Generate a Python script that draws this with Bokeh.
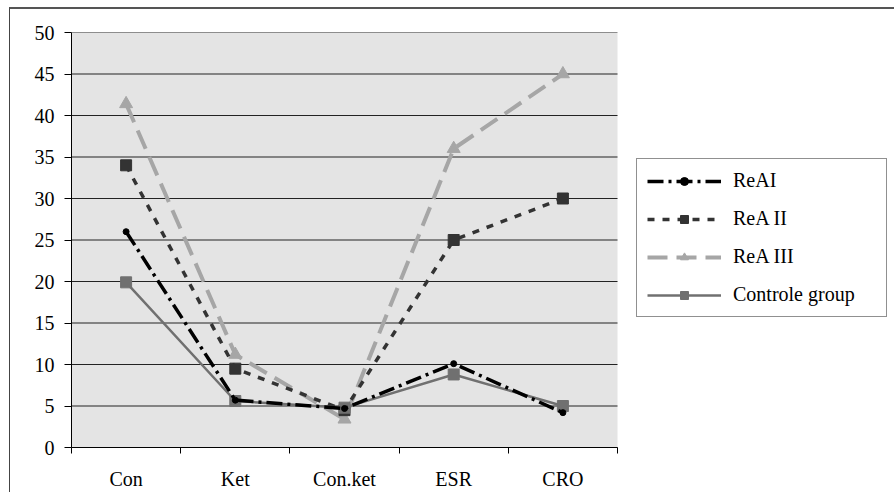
from bokeh.plotting import figure
from bokeh.models import FixedTicker, Legend, LegendItem, Range1d
from bokeh.layouts import column
from bokeh.embed import file_html
from bokeh.resources import INLINE

categories = ["Con", "Ket", "Con.ket", "ESR", "CRO"]
rea1 = [26.0, 5.7, 4.7, 10.1, 4.2]
rea2 = [34.0, 9.5, 4.5, 25.0, 30.0]
rea3 = [41.4, 11.2, 3.4, 36.0, 45.0]
control = [19.9, 5.6, 4.8, 8.8, 5.0]
y_ticks = [0, 5, 10, 15, 20, 25, 30, 35, 40, 45, 50]
series_names = ["ReAI", "ReA II", "ReA III", "Controle group"]

n = len(categories)
xs = [i + 0.5 for i in range(n)]
bounds = [i for i in range(n + 1)]

FONT = "Liberation Serif"

# figure sits inside a wrapper whose top/left CSS borders form the outer chart frame
OX, OY = 10, 9
W, H = 894 - OX, 492 - OY
LEFT, TOP, BOTTOM = 71 - OX, 32 - OY, 43
PLOT_W = 546  # pixel width of the category area
frame_w = W - LEFT
x_end = n * frame_w / PLOT_W

p = figure(width=W, height=H, output_backend="svg", toolbar_location=None,
           x_range=Range1d(0, x_end), y_range=Range1d(0, 50),
           min_border_left=LEFT, min_border_right=0, min_border_top=TOP,
           min_border_bottom=BOTTOM)
p.background_fill_color = "white"
p.border_fill_color = "white"
p.outline_line_color = None

# gray plotting area and horizontal gridlines limited to the category area
p.quad(left=[0], right=[n], bottom=[y_ticks[0]], top=[y_ticks[-1]],
       fill_color="#e4e4e4", line_color=None, level="image")
p.segment(x0=[0] * len(y_ticks), x1=[n] * len(y_ticks), y0=y_ticks, y1=y_ticks,
          line_color="#222222", line_width=1, level="underlay")
p.xgrid.grid_line_color = None
p.ygrid.grid_line_color = None

# axes
p.yaxis.ticker = FixedTicker(ticks=y_ticks)
p.yaxis.major_tick_out = 7
p.yaxis.major_tick_in = 0
p.yaxis.minor_tick_out = 0
p.yaxis.minor_tick_in = 0
p.yaxis.axis_line_color = "black"
p.yaxis.major_tick_line_color = "black"
p.yaxis.major_label_standoff = 10

p.xaxis.ticker = FixedTicker(ticks=xs, minor_ticks=bounds)
p.xaxis.major_label_overrides = {x: c for x, c in zip(xs, categories)}
p.xaxis.bounds = (0, n)
p.xaxis.major_tick_out = 0
p.xaxis.major_tick_in = 0
p.xaxis.minor_tick_out = 6
p.xaxis.minor_tick_in = 0
p.xaxis.minor_tick_line_color = "black"
p.xaxis.axis_line_color = "black"
p.xaxis.major_label_standoff = 14

for ax in (p.xaxis, p.yaxis):
    ax.major_label_text_font = FONT
    ax.major_label_text_font_size = "20px"
    ax.major_label_text_color = "black"

# series
l3 = p.line(xs, rea3, line_color="#a6a6a6", line_width=4, line_dash="20 9")
m3 = p.scatter(xs, rea3, marker="triangle", size=13, fill_color="#a6a6a6", line_color="#a6a6a6")
l2 = p.line(xs, rea2, line_color="#333333", line_width=3.5, line_dash="7 8")
m2 = p.scatter(xs, rea2, marker="square", size=11, fill_color="#333333", line_color="#333333")
l4 = p.line(xs, control, line_color="#707070", line_width=2.5)
m4 = p.scatter(xs, control, marker="square", size=11, fill_color="#707070", line_color="#707070")
l1 = p.line(xs, rea1, line_color="black", line_width=3.5, line_dash="16 5 3 5")
m1 = p.scatter(xs, rea1, marker="circle", size=6, fill_color="black", line_color="black")

items = [
    LegendItem(label=series_names[0], renderers=[l1, m1]),
    LegendItem(label=series_names[1], renderers=[l2, m2]),
    LegendItem(label=series_names[2], renderers=[l3, m3]),
    LegendItem(label=series_names[3], renderers=[l4, m4]),
]
legend = Legend(items=items, location=(565, 130), border_line_color="#222222", border_line_width=1,
                background_fill_color="white", background_fill_alpha=1.0,
                label_text_font=FONT, label_text_font_size="20px", label_text_color="black",
                glyph_width=74, glyph_height=20, label_height=20, label_standoff=12,
                spacing=15, padding=10, margin=0, label_width=143)
p.add_layout(legend, "center")

wrap = column(p, styles={"margin-left": "9px", "margin-top": "7px",
                         "border-top": "2px solid #555555", "border-left": "1px solid #444444"})

open("out.html", "w").write(file_html(wrap, INLINE))
